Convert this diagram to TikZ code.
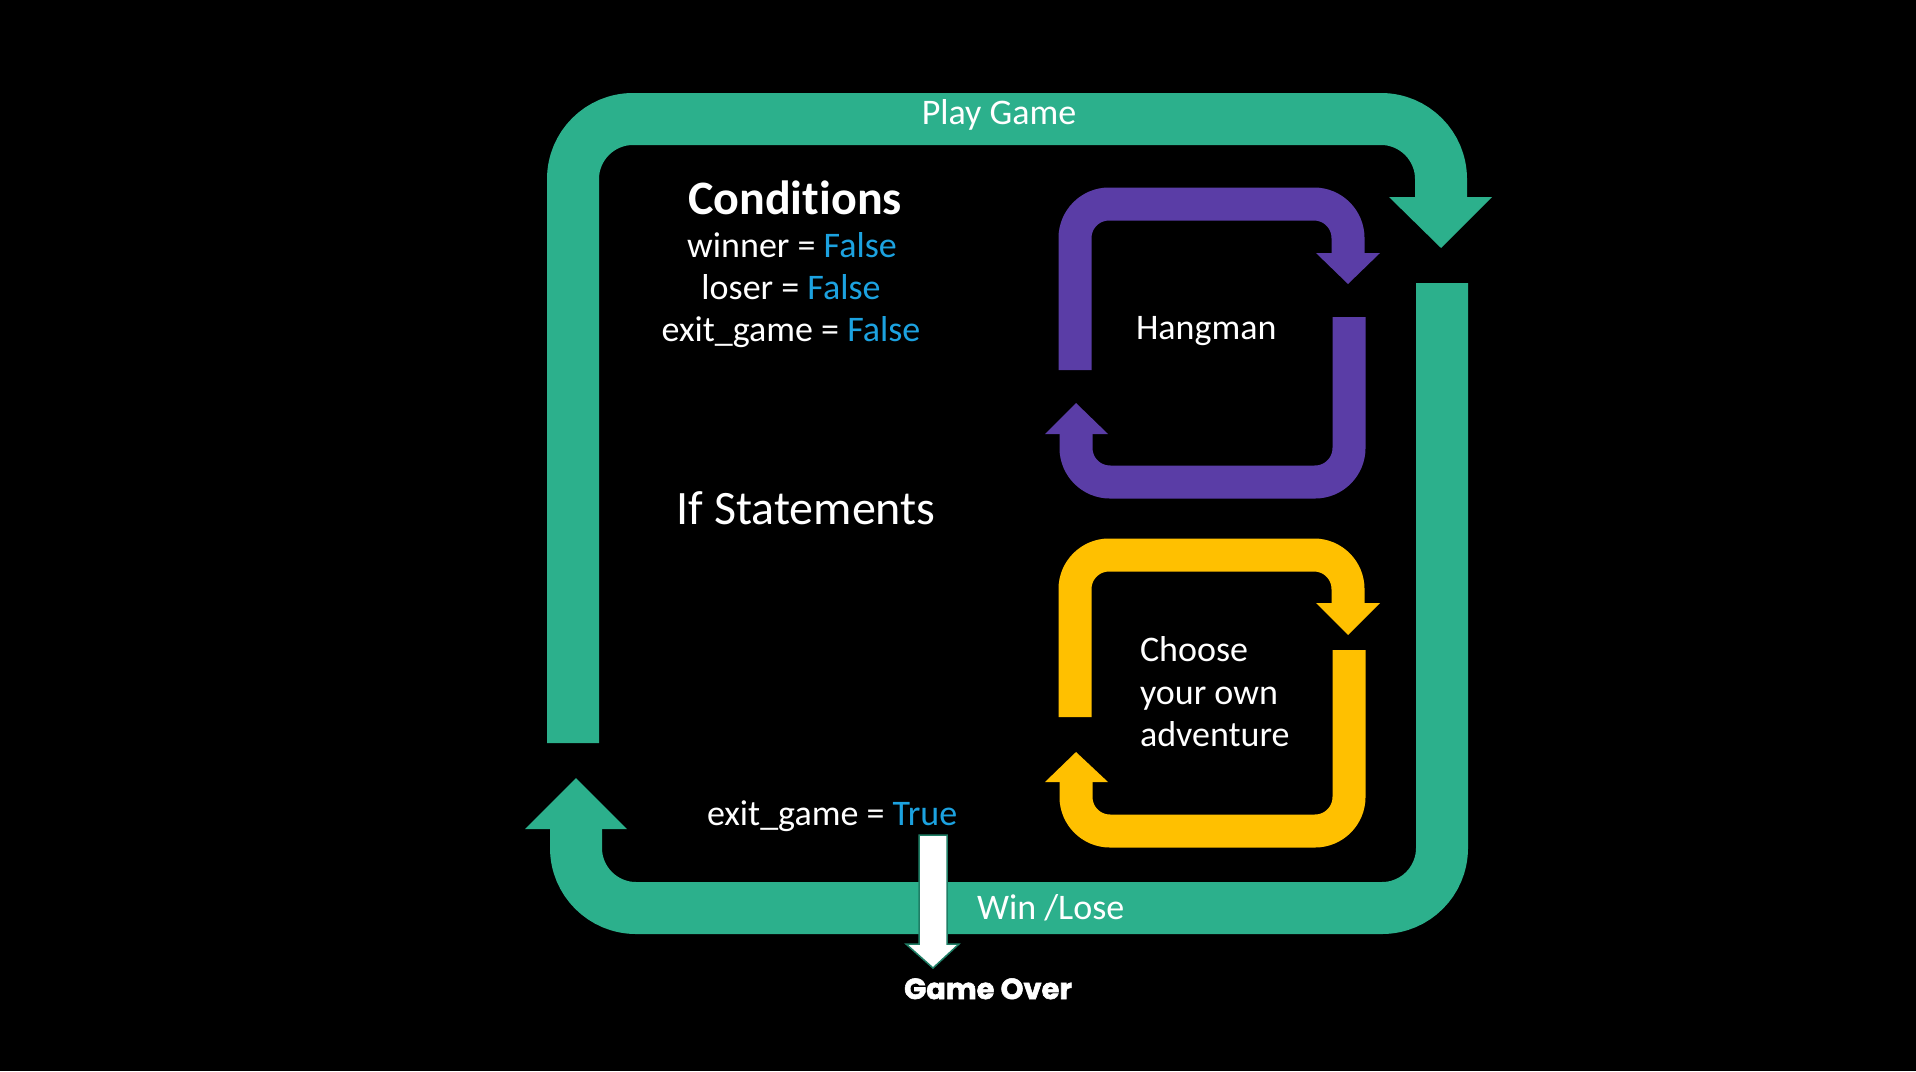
\documentclass[tikz,border=0pt]{standalone}
\usepackage{fontspec}
\setmainfont{Carlito}[Ligatures=NoCommon]
\newfontfamily\gofont{Poppins}[BoldFeatures={FakeBold=2}]
\definecolor{loopgreen}{HTML}{2CB08C}
\definecolor{loopviolet}{HTML}{5A3DA6}
\definecolor{loopgold}{HTML}{FFC000}
\definecolor{valblue}{HTML}{1CA2E0}
\definecolor{edgegreen}{HTML}{1F7F66}
\begin{document}
\begin{tikzpicture}[x=1pt,y=-1pt,
  bigband/.style={draw=loopgreen,line width=52pt,rounded corners=60pt},
  smallband/.style={line width=33pt,rounded corners=34pt},
  txt/.style={inner sep=0pt,outer sep=0pt,text=white,font=\fontsize{36}{43}\selectfont}]
\useasboundingbox (0,0) rectangle (1916,1071);
\fill[black] (0,0) rectangle (1916,1071);

% big green loop
\draw[bigband] (573,743) -- (573,119) -- (1441,119) -- (1441,198);
\fill[loopgreen] (1389,197) -- (1492,197) -- (1441,248) -- cycle;
\draw[bigband] (1442,283) -- (1442,908) -- (576,908) -- (576,828);
\fill[loopgreen] (525,829) -- (627,829) -- (576,778) -- cycle;

% purple loop
\draw[smallband,draw=loopviolet] (1075,370) -- (1075,204) -- (1348,204) -- (1348,254);
\fill[loopviolet] (1316,253) -- (1380,253) -- (1348,284) -- cycle;
\draw[smallband,draw=loopviolet] (1349,317) -- (1349,482) -- (1076,482) -- (1076,433);
\fill[loopviolet] (1045,434) -- (1108,434) -- (1076,403) -- cycle;

% gold loop
\draw[smallband,draw=loopgold] (1075,717) -- (1075,555) -- (1348,555) -- (1348,604);
\fill[loopgold] (1316,603) -- (1380,603) -- (1348,635) -- cycle;
\draw[smallband,draw=loopgold] (1349,650) -- (1349,831) -- (1076,831) -- (1076,781);
\fill[loopgold] (1045,782) -- (1108,782) -- (1076,752) -- cycle;

% exit arrow
\draw[fill=white,draw=edgegreen,line width=1.5pt] (919,835) -- (947,835) -- (947,944) -- (959,944) -- (933,968) -- (906,944) -- (919,944) -- cycle;

% texts
\node[txt,anchor=base] (play) at (999,124) {Play Game};
\node[txt,anchor=base,font=\bfseries\fontsize{48}{56}\selectfont] (cond) at (795,214) {Conditions};
\node[txt,anchor=base] (winv) at (792,257) {winner = \textcolor{valblue}{False}};
\node[txt,anchor=base] (losv) at (791,299) {loser = \textcolor{valblue}{False}};
\node[txt,anchor=base] (exf) at (791,341) {exit\_game = \textcolor{valblue}{False}};
\node[txt,anchor=base,font=\fontsize{48}{56}\selectfont] (ifs) at (806,524) {If Statements};
\node[txt,anchor=base west] (hang) at (1136,339) {Hangman};
\node[txt,anchor=base west] (cyoa1) at (1140,661) {Choose};
\node[txt,anchor=base west] (cyoa2) at (1140,704) {your own};
\node[txt,anchor=base west] (cyoa3) at (1140,746) {adventure};
\node[txt,anchor=base west] (ext) at (707,825) {exit\_game = \textcolor{valblue}{True}};
\node[txt,anchor=base west] (wl) at (977,919) {Win /Lose};
\node[txt,anchor=base,font=\gofont\bfseries\fontsize{29}{32}\selectfont] (over) at (988,999) {Game Over};
\end{tikzpicture}
\end{document}
